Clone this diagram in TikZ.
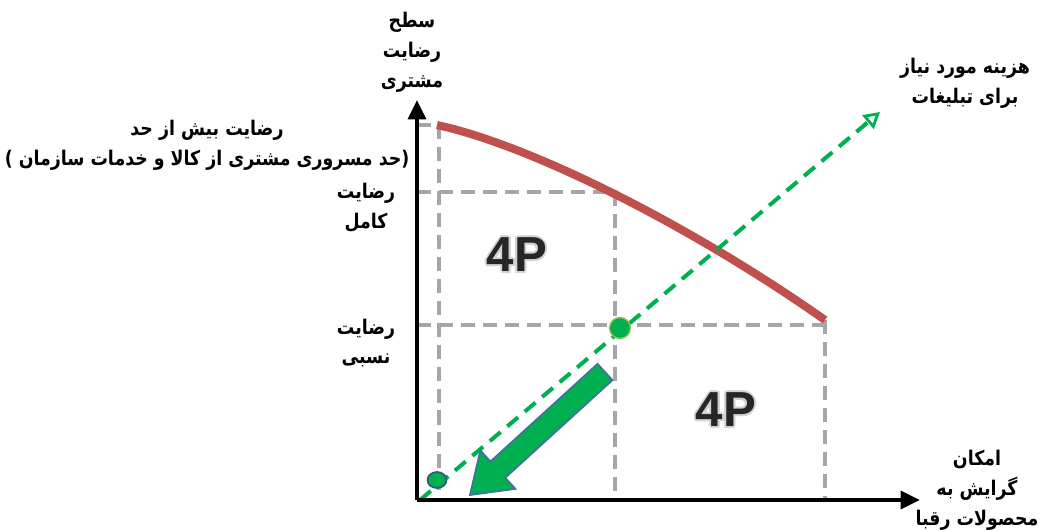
\documentclass[tikz,border=0pt]{standalone}
\usepackage{fontspec}
\TeXXeTstate=1
\newfontfamily\fa[Script=Arabic,FakeStretch=0.86]{DejaVu Sans}
\newfontfamily\lat{Liberation Sans}
\usetikzlibrary{arrows.meta,calc,shapes.geometric}
\newcommand\rl[1]{\beginR#1\endR}
\definecolor{cred}{HTML}{C0504D}
\definecolor{cgreen}{HTML}{00B050}
\definecolor{cgray}{HTML}{A6A6A6}
\definecolor{cblue}{HTML}{41719C}
\definecolor{colive}{HTML}{9BBB59}
\tikzset{
  lbl/.style={font={\fa\bfseries\fontsize{11.5}{17}\selectfont},align=center,inner sep=0pt},
  axis/.style={line width=2.6pt,-{Triangle[length=11pt,width=10pt]}},
  gdash/.style={cgray,line width=2.4pt,dash pattern=on 8pt off 4.5pt},
  grdash/.style={cgreen,line width=2.3pt,dash pattern=on 8pt off 5pt},
  fourp/.style={font={\lat\bfseries\fontsize{28}{30}\selectfont},inner sep=0pt},
}
\begin{document}
\begin{tikzpicture}[x=0.02cm,y=-0.02cm]
\useasboundingbox (0,0) rectangle (1046,529);
% coordinates
\coordinate (O) at (417,500);
\coordinate (Ytop) at (417,100);
\coordinate (Xend) at (920,500);
\coordinate (A0) at (417,125);
\coordinate (A1) at (439,125);
\coordinate (A1b) at (439,500);
\coordinate (B0) at (417,192);
\coordinate (B1) at (615,192);
\coordinate (B1b) at (615,500);
\coordinate (C0) at (417,325);
\coordinate (C1) at (825,325);
\coordinate (C1t) at (825,320);
\coordinate (C1b) at (825,500);
\coordinate (G0) at (420,500);
\coordinate (G1) at (880,112);
\coordinate (R0) at (437,125);
\coordinate (R1) at (825,320);
% gray dashed grid
\draw[gdash] (A0) -- (A1) -- (A1b);
\draw[gdash] (B0) -- (B1) -- (B1b);
\draw[gdash] (C0) -- (C1);
\draw[gdash] (C1t) -- (C1b);
% red curve
\draw[cred,line width=4.6pt] (R0) .. controls (530,145) and (690,225) .. (R1);
% green dashed line
\draw[grdash,-{Triangle[open,length=9pt,width=10pt,line width=1.6pt]}] (G0) -- (G1);
% axes
\draw[axis] (O) -- (Ytop);
\draw[axis] (O) -- (Xend);
% dots
\node[circle,fill=cgreen,draw=colive,line width=0.8pt,inner sep=0pt,minimum size=0.42cm] (D1) at (620,328) {};
\node[ellipse,fill=cgreen,draw=cblue!80!black,line width=1pt,inner sep=0pt,minimum width=0.38cm,minimum height=0.32cm] (D0) at (437,480) {};
% block arrow
\coordinate (S) at (605,372);
\coordinate (T) at (470,495);
\coordinate (H) at ($(S)!2.9cm!(T)$);
\coordinate (Q1) at ($(S)!0.22cm!90:(T)$);
\coordinate (Q2) at ($(H)!0.22cm!-90:(S)$);
\coordinate (Q3) at ($(H)!0.52cm!-90:(S)$);
\coordinate (Q4) at ($(H)!0.52cm!90:(S)$);
\coordinate (Q5) at ($(H)!0.22cm!90:(S)$);
\coordinate (Q6) at ($(S)!0.22cm!-90:(T)$);
\fill[cgreen,draw=cblue,line width=1pt] (Q1) -- (Q2) -- (Q3) -- (T) -- (Q4) -- (Q5) -- (Q6) -- cycle;
% 4P labels
\coordinate (p1c) at (517,255);
\coordinate (p2c) at (726,410);
\foreach \n in {p1,p2}{
  \foreach \dx/\dy in {-2/0,2/0,0/-2,0/2,-1.5/-1.5,1.5/1.5,-1.5/1.5,1.5/-1.5}{
    \node[fourp,text=gray!35] at ([shift={(\dx,\dy)}]\n c) {4P};
  }
  \node[fourp,text=black!85] (\n) at (\n c) {4P};
}
% labels
\node[lbl] (ylab) at (412,52) {\rl{سطح}\\\rl{رضایت}\\\rl{مشتری}};
\node[lbl] (over) at (207,145) {\rl{رضایت بیش از حد}\\\rl{(حد مسروری مشتری از کالا و خدمات سازمان )}};
\node[lbl] (full) at (366,208) {\rl{رضایت}\\\rl{کامل}};
\node[lbl] (rel) at (366,343) {\rl{رضایت}\\\rl{نسبی}};
\node[lbl] (cost) at (965,83) {\rl{هزینه مورد نیاز}\\\rl{برای تبلیغات}};
\node[lbl] (xlab) at (977,490) {\rl{امکان}\\\rl{گرایش به}\\\rl{محصولات رقبا}};
\end{tikzpicture}
\end{document}
